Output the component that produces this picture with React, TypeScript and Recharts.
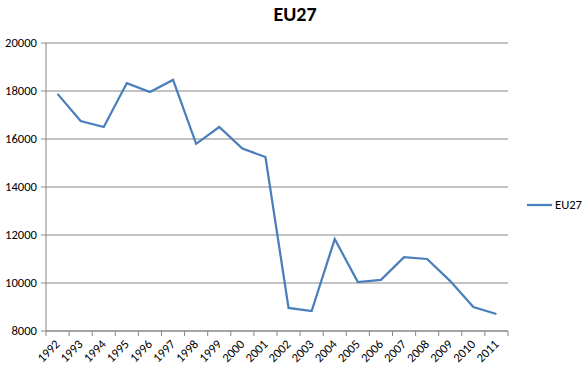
import React from "react";
import { LineChart, Line, XAxis, YAxis, CartesianGrid } from "recharts";

const years = ["1992","1993","1994","1995","1996","1997","1998","1999","2000","2001","2002","2003","2004","2005","2006","2007","2008","2009","2010","2011"];
const eu27 = [17880,16750,16500,18330,17960,18460,15800,16500,15600,15250,8960,8830,11830,10040,10130,11080,11000,10080,9000,8710];
const yTicks = [8000,10000,12000,14000,16000,18000,20000];

const data = years.map((y, i) => ({ year: y, EU27: eu27[i] }));

const FONT = "Carlito, Calibri, 'Liberation Sans', Arial, sans-serif";
const HALF = 11.55;
const FS = 12.6;

const XTick = (props: any) => {
  const { x, y, payload, index } = props;
  const last = index === years.length - 1;
  return (
    <g>
      <line x1={x - HALF} x2={x - HALF} y1={y - 8} y2={y - 3} stroke="#868686" />
      {last && <line x1={x + HALF} x2={x + HALF} y1={y - 8} y2={y - 3} stroke="#868686" />}
      <text
        x={x + 3}
        y={y + 6}
        textAnchor="end"
        fontSize={FS}
        fontFamily={FONT}
        fill="#000"
        transform={`rotate(-45, ${x + 3}, ${y + 6})`}
      >
        {payload.value}
      </text>
    </g>
  );
};

export default function App() {
  return (
    <div style={{ position: "absolute", left: 0, top: 0, width: 582, height: 372, background: "#fff" }}>
      <div
        style={{
          position: "absolute",
          left: 0,
          top: 2,
          width: 590,
          textAlign: "center",
          fontFamily: FONT,
          fontWeight: "bold",
          fontSize: 20,
          color: "#000",
        }}
      >
        EU27
      </div>
      <div style={{ position: "absolute", left: 520, top: 196 }}>
        <svg width={70} height={20}>
          <line x1={7} x2={32} y1={9} y2={9} stroke="#4a7ebb" strokeWidth={2.25} />
          <text x={35} y={13} fontSize={FS} fontFamily={FONT} fill="#000">EU27</text>
        </svg>
      </div>
      <LineChart width={582} height={372} data={data} margin={{ top: 43, right: 74, bottom: 0, left: 0 }}>
        <CartesianGrid vertical={false} stroke="#868686" strokeWidth={1} />
        <XAxis
          dataKey="year"
          height={41}
          padding={{ left: HALF, right: HALF }}
          tickLine={false}
          axisLine={{ stroke: "#868686" }}
          tick={<XTick />}
          interval={0}
        />
        <YAxis
          width={46}
          domain={[8000, 20000]}
          ticks={yTicks}
          interval={0}
          axisLine={{ stroke: "#868686" }}
          tickLine={{ stroke: "#868686" }}
          tickSize={5}
          tickMargin={4}
          tick={{ fontSize: FS, fontFamily: FONT, fill: "#000" }}
        />
        <Line
          type="linear"
          dataKey="EU27"
          stroke="#4a7ebb"
          strokeWidth={2.25}
          dot={false}
          isAnimationActive={false}
        />
      </LineChart>
    </div>
  );
}
